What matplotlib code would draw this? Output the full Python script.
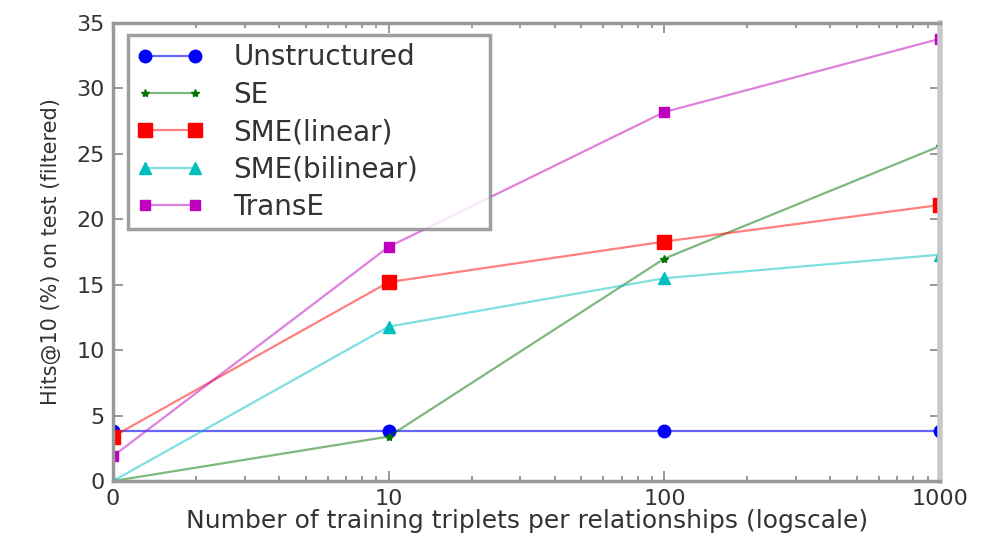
import matplotlib
matplotlib.use("Agg")
import matplotlib.pyplot as plt

# training triplets per relationship (0 is drawn at x=1 on the log axis)
x_pos = [1, 10, 100, 1000]
x_labels = ["0", "10", "100", "1000"]

unstructured = [3.8, 3.8, 3.8, 3.8]
se = [0.0, 3.4, 17.0, 25.6]
sme_linear = [3.4, 15.2, 18.3, 21.1]
sme_bilinear = [0.0, 11.8, 15.5, 17.3]
transe = [1.9, 17.9, 28.2, 33.8]

series = [
    ("Unstructured", unstructured, (0, 0, 1), "o", 9, 0.6),
    ("SE", se, (0, 0.45, 0), "*", 6, 0.5),
    ("SME(linear)", sme_linear, (1, 0, 0), "s", 10, 0.5),
    ("SME(bilinear)", sme_bilinear, (0, 0.75, 0.75), "^", 8, 0.5),
    ("TransE", transe, (0.75, 0, 0.75), "s", 7, 0.5),
]

fig = plt.figure(figsize=(9.87, 5.42), dpi=100)
ax = fig.add_axes([0.1145, 0.1125, 0.838, 0.845])

for name, vals, col, mk, ms, a in series:
    ax.plot(x_pos, vals, color=col + (a,), lw=1.6, marker=mk, markersize=ms,
            markerfacecolor=col, markeredgecolor=col, label=name)

ax.set_xscale("log")
ax.set_xlim(1, 1000)
ax.set_ylim(0, 35)
ax.set_xticks(x_pos)
ax.set_xticklabels(x_labels)
ax.set_yticks(range(0, 36, 5))

ax.tick_params(which="both", direction="in", top=True, right=True,
               colors="#888888", labelcolor="#333333", labelsize=16)
ax.tick_params(which="major", length=7, width=1.2, pad=6)
ax.tick_params(which="minor", length=3.5, width=1.2)
for sp in ax.spines.values():
    sp.set_color("#999999")
    sp.set_linewidth(2.5)
ax.spines["right"].set_color("#c8c8c8")
ax.spines["right"].set_linewidth(4)

ax.set_xlabel("Number of training triplets per relationships (logscale)",
              fontsize=18, color="#333333", labelpad=0)
ax.set_ylabel("Hits@10 (%) on test (filtered)", fontsize=15, color="#333333",
              labelpad=11)

leg = ax.legend(loc="upper left", numpoints=2, fontsize=20, fancybox=False,
                mode="expand", bbox_to_anchor=(0.018, 0.0, 0.438, 0.974),
                borderaxespad=0, handlelength=2.4, borderpad=0.3,
                labelspacing=0.34, handletextpad=1.1)
leg.get_frame().set_edgecolor("#888888")
leg.get_frame().set_linewidth(2.5)
for t in leg.get_texts():
    t.set_color("#333333")

fig.savefig("out.png", dpi=100)
